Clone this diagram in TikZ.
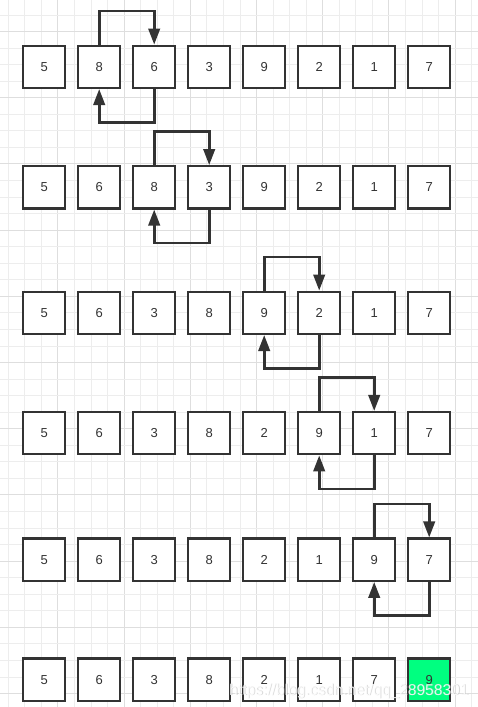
\documentclass[tikz,border=0pt]{standalone}
\usepackage{fontspec}
\setmainfont{Liberation Sans}
\usetikzlibrary{arrows.meta}
\definecolor{ink}{HTML}{333333}
\definecolor{gridminor}{HTML}{EDEDED}
\definecolor{gridmajor}{HTML}{DEDEDE}
\definecolor{hot}{HTML}{00FF80}
\tikzset{
  cell/.style={draw=ink, line width=2.3pt, fill=white, minimum size=42.2pt, inner sep=0pt,
    text=ink, font=\fontsize{13}{13}\selectfont},
  hotcell/.style={cell, fill=hot},
  swaparrow/.style={draw=ink, line width=2.6pt, -{Triangle[length=16pt,width=11.5pt]}},
  mark1/.style={font=\fontsize{15.6}{16}\selectfont, inner sep=0pt, anchor=base west}
}
\begin{document}
\begin{tikzpicture}[x=1pt,y=-1pt]
\useasboundingbox (0,0) rectangle (478,707);
\fill[white] (0,0) rectangle (478,707);
% grid
\foreach \k in {0,...,28} {
  \pgfmathsetmacro{\gx}{8.3+16.55*\k}
  \pgfmathtruncatemacro{\m}{mod(\k,4)}
  \ifnum\m=3 \draw[gridmajor, line width=1pt] (\gx,0) -- (\gx,707);
  \else \draw[gridminor, line width=1pt] (\gx,0) -- (\gx,707); \fi
}
\foreach \k in {0,...,41} {
  \pgfmathsetmacro{\gy}{15+16.55*\k}
  \pgfmathtruncatemacro{\m}{mod(\k,4)}
  \ifnum\m=1 \draw[gridmajor, line width=1pt] (0,\gy) -- (478,\gy);
  \else \draw[gridminor, line width=1pt] (0,\gy) -- (478,\gy); \fi
}
% rows
\foreach \r/\yy/\vals in {1/66.8/{5,8,6,3,9,2,1,7},2/187.3/{5,6,8,3,9,2,1,7},3/312.8/{5,6,3,8,9,2,1,7},4/433.2/{5,6,3,8,2,9,1,7},5/559.7/{5,6,3,8,2,1,9,7}} {
  \foreach \v [count=\c] in \vals {
    \node[cell] (b\r\c) at ({44.2+55*(\c-1)},\yy) {\v};
  }
}
\foreach \v [count=\c] in {5,6,3,8,2,1,7} {
  \node[cell] (b6\c) at ({44.2+55*(\c-1)},679.7) {\v};
}
\node[hotcell] (b68) at ({44.2+55*7},679.7) {9};
% swap arrows
\foreach \r/\a/\b in {1/2/3,2/3/4,3/5/6,4/6/7,5/7/8} {
  \draw[swaparrow] (b\r\a.north) -- ++(0,-33.6) -| (b\r\b.north);
  \draw[swaparrow] (b\r\b.south) -- ++(0,33.6) -| (b\r\a.south);
}
% watermark
\node[mark1, text=black!30, opacity=0.5] (wm0) at (229.8,695.8) {https://blog.csdn.net/qq\_28958301};
\node[mark1, text=white, opacity=0.85] (wm) at (229,695) {https://blog.csdn.net/qq\_28958301};
\end{tikzpicture}
\end{document}
